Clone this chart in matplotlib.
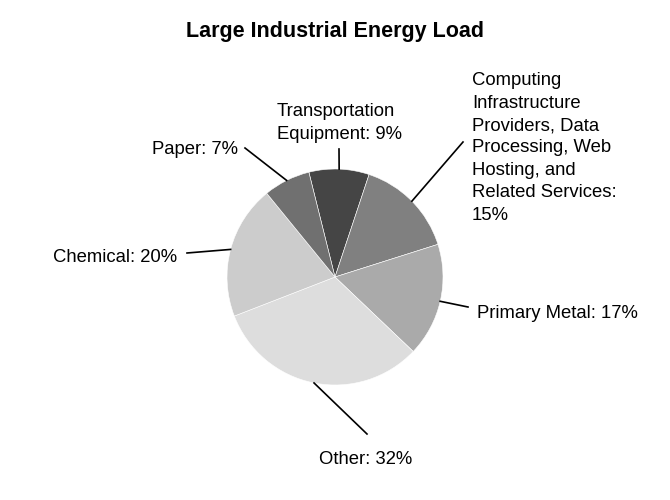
import numpy as np
import matplotlib
matplotlib.use('Agg')
from matplotlib import pyplot as plt

plt.rcParams['font.family'] = ['Liberation Sans', 'DejaVu Sans']

labels = ['Transportation\nEquipment', 'Computing\nInfrastructure\nProviders, Data\nProcessing, Web\nHosting, and\nRelated Services',
          'Primary Metal', 'Other', 'Chemical', 'Paper']
shares = [9, 15, 17, 32, 20, 7]
colors = ['#454545', '#808080', '#aaaaaa', '#dddddd', '#cccccc', '#707070']
seps = ['\n', ':\n', ': ', ': ', ': ', ': ']

# label layout in pixel coords (x, y from top): text left/center, line end
text_pos = [(277, 123), (472, 148), (477, 313), (319, 460), (53, 257), (152, 150)]
line_end = [(339, 149), (463, 142), (468, 307), (367, 434), (187, 253), (245, 148)]

W, H = 670, 500
cx, cy, R = 335, 277, 108

fig = plt.figure(figsize=(6.7, 5), dpi=100)
ax = fig.add_axes([0, 0, 1, 1])

wedges, _ = ax.pie(shares, colors=colors, startangle=104, counterclock=False,
                   center=(cx, H - cy), radius=R,
                   wedgeprops=dict(edgecolor='white', linewidth=0.4))
ax.set_xlim(0, W)
ax.set_ylim(0, H)
ax.set_aspect('equal')
ax.axis('off')

for w, lab, val, sep, tp, le in zip(wedges, labels, shares, seps, text_pos, line_end):
    mid = np.deg2rad((w.theta1 + w.theta2) / 2)
    x0 = cx + R * np.cos(mid)
    y0 = (H - cy) + R * np.sin(mid)
    ax.plot([x0, le[0]], [y0, H - le[1]], color='black', lw=1.2)
    if sep == '\n':
        txt = lab.replace('Equipment', 'Equipment: %d%%' % val)
    else:
        txt = lab + sep + '%d%%' % val
    ax.text(tp[0], H - tp[1], txt, ha='left', va='center', fontsize=13.3,
            linespacing=1.42)

ax.text(335, H - 31, 'Large Industrial Energy Load', ha='center', va='center',
        fontsize=15.5, fontweight='bold')

fig.savefig('out.png', dpi=100)
plt.close()
